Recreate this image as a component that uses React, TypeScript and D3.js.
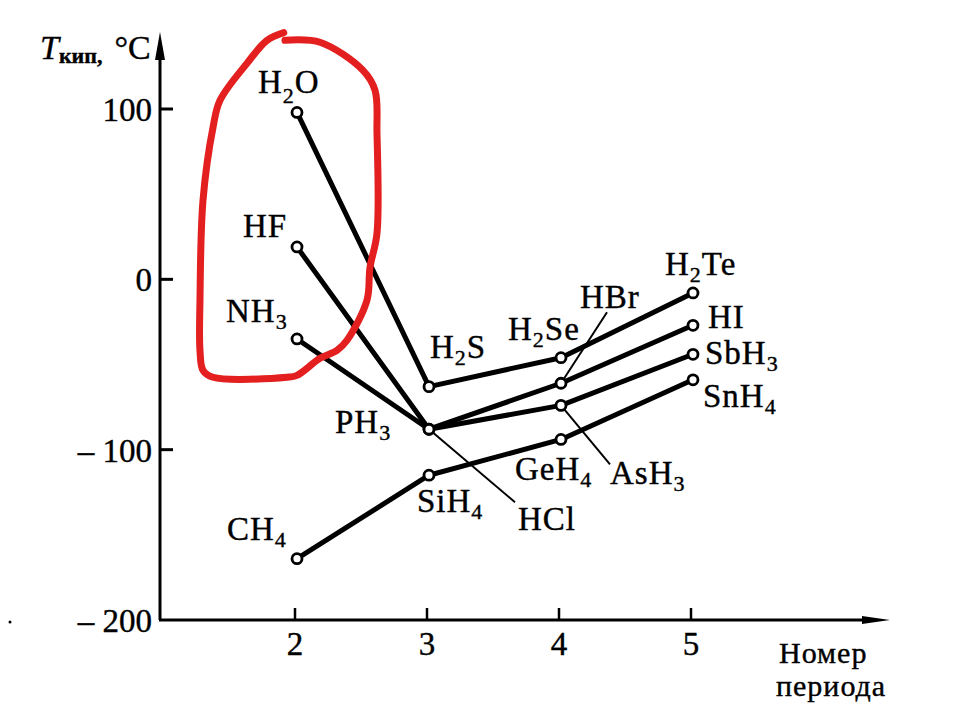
import React from "react";
import * as d3 from "d3";

// ---- data ----
const periods = [2, 3, 4, 5];
const group14Names = ["CH4", "SiH4", "GeH4", "SnH4"];
const group14Values = [-164, -115, -94, -59];
const group15Names = ["NH3", "PH3", "AsH3", "SbH3"];
const group15Values = [-35, -88, -74, -44];
const group16Names = ["H2O", "H2S", "H2Se", "H2Te"];
const group16Values = [98, -63, -46, -8];
const group17Names = ["HF", "HCl", "HBr", "HI"];
const group17Values = [19, -88, -61, -27];
const yTicks = [100, 0, -100, -200];
const yTickLabels = ["100", "0", "– 100", "– 200"];
const xTicks = [2, 3, 4, 5];
// hand-drawn red loop (in data units: period, °C)
const loopX = [1.909, 2.174, 2.5, 2.591, 2.606, 2.606, 2.553, 2.53, 2.379, 2.303, 2.174, 2.0, 1.924, 1.364, 1.288, 1.265, 1.265, 1.288, 1.364, 1.417, 1.621, 1.773, 1.9];
const loopY = [140.3, 139.2, 122.7, 111, 85.7, 27, 7, -12.3, -35.8, -41.7, -46.4, -56.4, -57.5, -57.5, -53.4, -41.7, -12.3, 46.4, 89.3, 105.1, 126.8, 140.3, 144.8];

const series = [
  { names: group16Names, values: group16Values },
  { names: group17Names, values: group17Values },
  { names: group15Names, values: group15Values },
  { names: group14Names, values: group14Values },
];

// ---- layout (label offsets from points, px) ----
const labelLayout: Record<string, { dx: number; dy: number; leader?: [number, number]; subDy?: number }> = {
  H2O: { dx: -39, dy: -19, subDy: 10 },
  HF: { dx: -54, dy: -10 },
  NH3: { dx: -71, dy: -17 },
  CH4: { dx: -70, dy: -19 },
  PH3: { dx: -94, dy: 4 },
  H2S: { dx: 1, dy: -29 },
  H2Se: { dx: -53, dy: -18 },
  H2Te: { dx: -28, dy: -18 },
  HI: { dx: 15, dy: 3 },
  SbH3: { dx: 12, dy: 10 },
  SnH4: { dx: 10, dy: 27 },
  GeH4: { dx: -46, dy: 41 },
  SiH4: { dx: -12, dy: 37 },
  HCl: { dx: 89, dy: 101, leader: [86, 73] },
  HBr: { dx: 19, dy: -75, leader: [46, -71] },
  AsH3: { dx: 49, dy: 79, leader: [49, 59] },
};

const W = 958;
const H = 707;
const FONT = "'Liberation Serif', 'Times New Roman', serif";
const AXIS_X = 160;
const AXIS_Y = 620;

const x = d3.scaleLinear().domain([2, 5]).range([297, 693]);
const y = d3.scaleLinear().domain([-200, 100]).range([620, 109]);

function Formula({ name, px, py, subDy = 7 }: { name: string; px: number; py: number; subDy?: number }) {
  const parts = name.match(/[A-Za-z]+|\d+/g) || [];
  let shifted = false;
  return (
    <text x={px} y={py} fontFamily={FONT} fontSize={33} letterSpacing={1} fill="#000" stroke="#000" strokeWidth={0.4}>
      {parts.map((p, i) => {
        if (/\d/.test(p)) {
          shifted = true;
          return (
            <tspan key={i} fontSize={22} dy={subDy}>
              {p}
            </tspan>
          );
        }
        const dy = shifted ? -subDy : 0;
        shifted = false;
        return (
          <tspan key={i} dy={dy}>
            {p}
          </tspan>
        );
      })}
    </text>
  );
}

export default function App() {
  const line = d3
    .line<number>()
    .x((_, i) => x(periods[i]))
    .y((d) => y(d));
  const loopLine = d3
    .line<number>()
    .x((d) => x(d))
    .y((_, i) => y(loopY[i]))
    .curve(d3.curveCatmullRom.alpha(0.5));

  return (
    <svg width={W} height={H} style={{ position: "absolute", left: 0, top: 0, background: "#fff" }}>
      <rect x={0} y={0} width={W} height={H} fill="#fff" />
      {/* axes */}
      <line x1={AXIS_X} y1={AXIS_Y} x2={AXIS_X} y2={50} stroke="#000" strokeWidth={3} />
      <path d={`M${AXIS_X},32 L${AXIS_X - 5},60 L${AXIS_X + 5},60 Z`} fill="#000" />
      <line x1={AXIS_X - 1} y1={AXIS_Y} x2={870} y2={AXIS_Y} stroke="#000" strokeWidth={3} />
      <path d={`M890,${AXIS_Y} L862,${AXIS_Y - 4} L862,${AXIS_Y + 4} Z`} fill="#000" />
      {yTicks.map((t, i) => (
        <g key={t}>
          {t !== -200 && <line x1={AXIS_X} x2={AXIS_X + 13} y1={y(t)} y2={y(t)} stroke="#000" strokeWidth={3} />}
          <text x={152} y={y(t) + 12} textAnchor="end" fontFamily={FONT} fontSize={33} stroke="#000" strokeWidth={0.4}>
            {yTickLabels[i]}
          </text>
        </g>
      ))}
      {xTicks.map((t) => (
        <g key={t}>
          <line x1={x(t) - 2} x2={x(t) - 2} y1={AXIS_Y} y2={AXIS_Y - 12} stroke="#000" strokeWidth={2.5} />
          <text x={x(t) - 2} y={655} textAnchor="middle" fontFamily={FONT} fontSize={33} stroke="#000" strokeWidth={0.4}>
            {t}
          </text>
        </g>
      ))}
      {/* axis titles */}
      <text x={40} y={59} fontFamily={FONT} fontSize={34} stroke="#000" strokeWidth={0.4}>
        <tspan fontStyle="italic">T</tspan>
        <tspan fontSize={22} fontWeight="bold" dy={4}>
          кип,
        </tspan>
        <tspan dy={-4} dx={12}>
          °C
        </tspan>
      </text>
      <text x={779} y={663} fontFamily={FONT} fontSize={30} letterSpacing={1} stroke="#000" strokeWidth={0.4}>
        Номер
      </text>
      <text x={776} y={696} fontFamily={FONT} fontSize={30} letterSpacing={1} stroke="#000" strokeWidth={0.4}>
        периода
      </text>
      <circle cx={10} cy={622} r={1.5} fill="#000" />
      {/* leader lines */}
      {series.map((s) =>
        s.names.map((n, i) => {
          const L = labelLayout[n];
          if (!L.leader) return null;
          const px = x(periods[i]);
          const py = y(s.values[i]);
          return (
            <line key={"ld" + n} x1={px} y1={py} x2={px + L.leader[0]} y2={py + L.leader[1]} stroke="#000" strokeWidth={2} />
          );
        })
      )}
      {/* series lines */}
      {series.map((s, k) => (
        <path key={k} d={line(s.values) || ""} fill="none" stroke="#000" strokeWidth={5} strokeLinejoin="round" />
      ))}
      {series.map((s, k) =>
        s.values.map((v, i) => (
          <circle key={k + "-" + i} cx={x(periods[i])} cy={y(v)} r={5} fill="#fff" stroke="#000" strokeWidth={2.8} />
        ))
      )}
      {/* labels */}
      {series.map((s) =>
        s.names.map((n, i) => {
          const L = labelLayout[n];
          return <Formula key={"lb" + n} name={n} px={x(periods[i]) + L.dx} py={y(s.values[i]) + L.dy} subDy={L.subDy} />;
        })
      )}
      {/* red hand-drawn loop */}
      <path d={loopLine(loopX) || ""} fill="none" stroke="#e3201f" strokeWidth={7} strokeLinecap="round" strokeLinejoin="round" />
    </svg>
  );
}
